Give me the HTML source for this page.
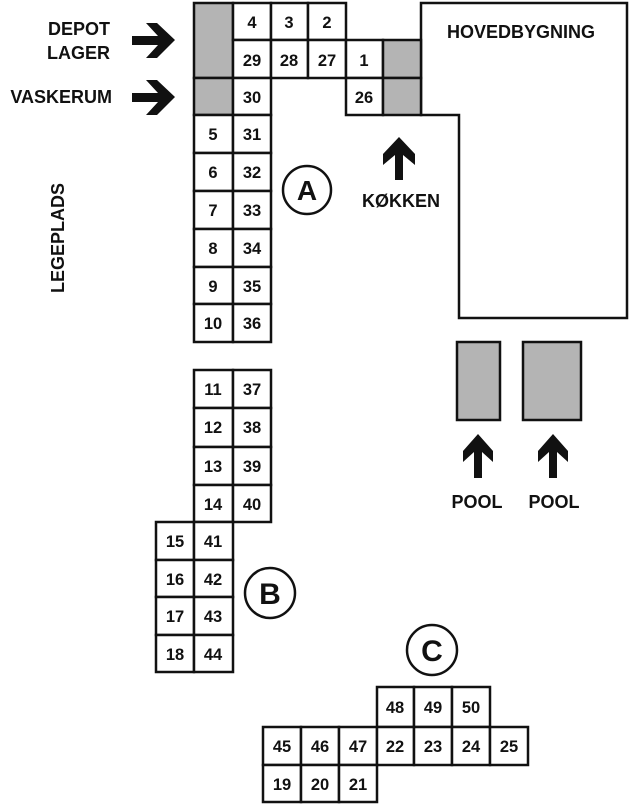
<!DOCTYPE html>
<html><head><meta charset="utf-8"><style>
html,body{margin:0;padding:0;background:#fff;}
svg{display:block;}
text{font-family:"Liberation Sans",sans-serif;font-weight:bold;fill:#111;}
.c{fill:#fff;stroke:#111;stroke-width:2.5;}
.g{fill:#b4b4b4;stroke:#111;stroke-width:2.5;}
.n{font-size:16.5px;text-anchor:middle;}
.l{font-size:18px;}
</style></head><body>
<svg width="629" height="805" viewBox="0 0 629 805" xmlns="http://www.w3.org/2000/svg">
<path d="M421 3 H627 V318 H459 V115 H421 Z" fill="#fff" stroke="#111" stroke-width="2.5"/>
<text class="l" x="521" y="38" text-anchor="middle">HOVEDBYGNING</text>
<rect class="g" x="194" y="3" width="39" height="75"/>
<rect class="g" x="194" y="78" width="39" height="37"/>
<rect class="c" x="233" y="3" width="38" height="37"/><text class="n" x="252" y="28">4</text>
<rect class="c" x="271" y="3" width="37" height="37"/><text class="n" x="289" y="28">3</text>
<rect class="c" x="308" y="3" width="38" height="37"/><text class="n" x="327" y="28">2</text>
<rect class="c" x="233" y="40" width="38" height="38"/><text class="n" x="252" y="66">29</text>
<rect class="c" x="271" y="40" width="37" height="38"/><text class="n" x="289" y="66">28</text>
<rect class="c" x="308" y="40" width="38" height="38"/><text class="n" x="327" y="66">27</text>
<rect class="c" x="346" y="40" width="37" height="38"/><text class="n" x="364" y="66">1</text>
<rect class="g" x="383" y="40" width="38" height="38"/>
<rect class="c" x="233" y="78" width="38" height="37"/><text class="n" x="252" y="103">30</text>
<rect class="c" x="346" y="78" width="37" height="37"/><text class="n" x="364" y="103">26</text>
<rect class="g" x="383" y="78" width="38" height="37"/>
<rect class="c" x="194" y="115" width="39" height="38"/><text class="n" x="213" y="140">5</text>
<rect class="c" x="233" y="115" width="38" height="38"/><text class="n" x="252" y="140">31</text>
<rect class="c" x="194" y="153" width="39" height="38"/><text class="n" x="213" y="178">6</text>
<rect class="c" x="233" y="153" width="38" height="38"/><text class="n" x="252" y="178">32</text>
<rect class="c" x="194" y="191" width="39" height="38"/><text class="n" x="213" y="216">7</text>
<rect class="c" x="233" y="191" width="38" height="38"/><text class="n" x="252" y="216">33</text>
<rect class="c" x="194" y="229" width="39" height="38"/><text class="n" x="213" y="254">8</text>
<rect class="c" x="233" y="229" width="38" height="38"/><text class="n" x="252" y="254">34</text>
<rect class="c" x="194" y="267" width="39" height="37"/><text class="n" x="213" y="292">9</text>
<rect class="c" x="233" y="267" width="38" height="37"/><text class="n" x="252" y="292">35</text>
<rect class="c" x="194" y="304" width="39" height="38"/><text class="n" x="213" y="329">10</text>
<rect class="c" x="233" y="304" width="38" height="38"/><text class="n" x="252" y="329">36</text>
<text class="l" x="110" y="35" text-anchor="end">DEPOT</text>
<text class="l" x="110" y="59" text-anchor="end">LAGER</text>
<text class="l" x="112" y="103" text-anchor="end">VASKERUM</text>
<text class="l" transform="translate(64,238) rotate(-90)" text-anchor="middle">LEGEPLADS</text>
<polygon points="132,36 158,36 146,23 157,23 175,40 157,58 146,58 158,45 132,45" fill="#111"/>
<polygon points="132,93 158,93 146,80 157,80 175,97 157,115 146,115 158,102 132,102" fill="#111"/>
<circle cx="307" cy="190" r="24" fill="#fff" stroke="#111" stroke-width="2.5"/>
<text x="307" y="200" font-size="28" text-anchor="middle">A</text>
<polygon points="395,180 395,155 383,165 383,154 399,137 415,154 415,165 403,155 403,180" fill="#111"/>
<text class="l" x="401" y="207" text-anchor="middle">KØKKEN</text>
<rect class="g" x="457" y="342" width="43" height="78"/>
<rect class="g" x="523" y="342" width="58" height="78"/>
<polygon points="474,478 474,452 463,462 463,451 478,434 493,451 493,462 482,452 482,478" fill="#111"/>
<polygon points="549,478 549,452 538,462 538,451 553,434 568,451 568,462 557,452 557,478" fill="#111"/>
<text class="l" x="477" y="508" text-anchor="middle">POOL</text>
<text class="l" x="554" y="508" text-anchor="middle">POOL</text>
<rect class="c" x="194" y="370" width="39" height="38"/><text class="n" x="213" y="395">11</text>
<rect class="c" x="233" y="370" width="38" height="38"/><text class="n" x="252" y="395">37</text>
<rect class="c" x="194" y="408" width="39" height="39"/><text class="n" x="213" y="433">12</text>
<rect class="c" x="233" y="408" width="38" height="39"/><text class="n" x="252" y="433">38</text>
<rect class="c" x="194" y="447" width="39" height="38"/><text class="n" x="213" y="472">13</text>
<rect class="c" x="233" y="447" width="38" height="38"/><text class="n" x="252" y="472">39</text>
<rect class="c" x="194" y="485" width="39" height="37"/><text class="n" x="213" y="510">14</text>
<rect class="c" x="233" y="485" width="38" height="37"/><text class="n" x="252" y="510">40</text>
<rect class="c" x="156" y="522" width="38" height="38"/><text class="n" x="175" y="547">15</text>
<rect class="c" x="194" y="522" width="39" height="38"/><text class="n" x="213" y="547">41</text>
<rect class="c" x="156" y="560" width="38" height="37"/><text class="n" x="175" y="585">16</text>
<rect class="c" x="194" y="560" width="39" height="37"/><text class="n" x="213" y="585">42</text>
<rect class="c" x="156" y="597" width="38" height="38"/><text class="n" x="175" y="622">17</text>
<rect class="c" x="194" y="597" width="39" height="38"/><text class="n" x="213" y="622">43</text>
<rect class="c" x="156" y="635" width="38" height="37"/><text class="n" x="175" y="660">18</text>
<rect class="c" x="194" y="635" width="39" height="37"/><text class="n" x="213" y="660">44</text>
<circle cx="270" cy="593" r="25" fill="#fff" stroke="#111" stroke-width="2.5"/>
<text x="270" y="604" font-size="30" text-anchor="middle">B</text>
<circle cx="432" cy="650" r="25" fill="#fff" stroke="#111" stroke-width="2.5"/>
<text x="432" y="661" font-size="30" text-anchor="middle">C</text>
<rect class="c" x="377" y="687" width="37" height="40"/><text class="n" x="395" y="713">48</text>
<rect class="c" x="414" y="687" width="38" height="40"/><text class="n" x="433" y="713">49</text>
<rect class="c" x="452" y="687" width="38" height="40"/><text class="n" x="471" y="713">50</text>
<rect class="c" x="263" y="727" width="38" height="38"/><text class="n" x="282" y="752">45</text>
<rect class="c" x="301" y="727" width="38" height="38"/><text class="n" x="320" y="752">46</text>
<rect class="c" x="339" y="727" width="38" height="38"/><text class="n" x="358" y="752">47</text>
<rect class="c" x="377" y="727" width="37" height="38"/><text class="n" x="395" y="752">22</text>
<rect class="c" x="414" y="727" width="38" height="38"/><text class="n" x="433" y="752">23</text>
<rect class="c" x="452" y="727" width="38" height="38"/><text class="n" x="471" y="752">24</text>
<rect class="c" x="490" y="727" width="38" height="38"/><text class="n" x="509" y="752">25</text>
<rect class="c" x="263" y="765" width="38" height="37"/><text class="n" x="282" y="790">19</text>
<rect class="c" x="301" y="765" width="38" height="37"/><text class="n" x="320" y="790">20</text>
<rect class="c" x="339" y="765" width="38" height="37"/><text class="n" x="358" y="790">21</text>
</svg>
</body></html>
